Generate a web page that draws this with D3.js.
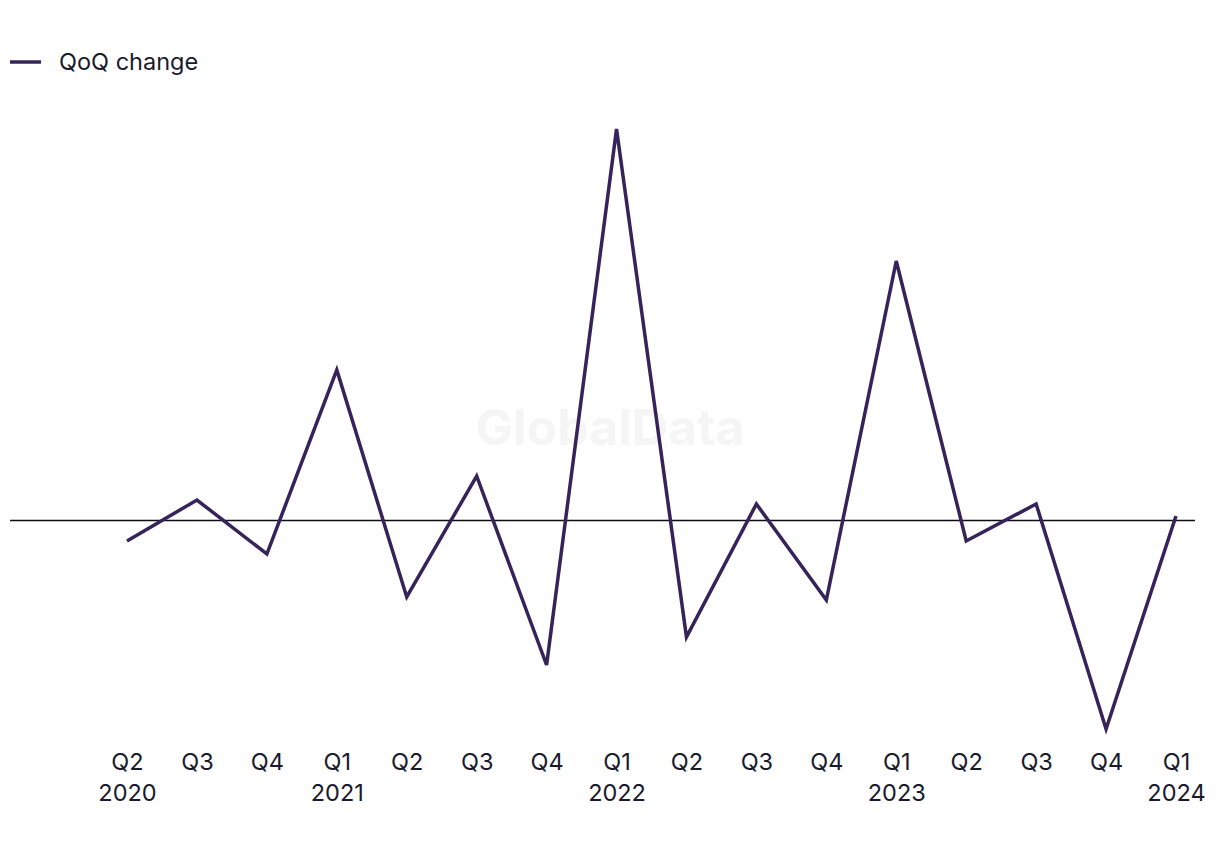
<!DOCTYPE html>
<html>
<head>
<meta charset="utf-8">
<script src="https://cdn.jsdelivr.net/npm/d3@7/dist/d3.min.js"></script>
<style>
  html, body { margin: 0; padding: 0; background: #ffffff; }
  svg { display: block; font-family: Inter, "Noto Sans", sans-serif; }
</style>
</head>
<body>
<svg id="chart" width="1220" height="850"></svg>
<script>
const quarters = ["Q2","Q3","Q4","Q1","Q2","Q3","Q4","Q1","Q2","Q3","Q4","Q1","Q2","Q3","Q4","Q1"];
const years    = ["2020","","","2021","","","","2022","","","","2023","","","","2024"];
const qoqChange = [-2.1, 2.0, -3.4, 15.0, -7.7, 4.4, -14.5, 39.1, -11.7, 1.6, -8.0, 25.9, -2.1, 1.6, -20.9, 0.4];
const seriesName = "QoQ change";

const lineColor = "#35235a";
const textColor = "#1a1a2e";

const svg = d3.select("#chart");
const idx = d3.range(quarters.length);

const x = d3.scalePoint().domain(idx).range([127, 1176]).padding(0);
const y = d3.scaleLinear().domain([-25, 45]).range([770, 70]);

// watermark
svg.append("text")
  .attr("x", 610).attr("y", 445)
  .attr("text-anchor", "middle")
  .attr("font-size", 50).attr("font-weight", 700)
  .attr("fill", "#f5f5f5")
  .text("GlobalData");

// zero line
svg.append("line")
  .attr("x1", 10).attr("x2", 1195)
  .attr("y1", y(0) + 0.5).attr("y2", y(0) + 0.5)
  .attr("stroke", "#0d0d1a").attr("stroke-width", 1.5);

// series line
const line = d3.line().x((d, i) => x(i)).y(d => y(d));
svg.append("path")
  .datum(qoqChange)
  .attr("d", line)
  .attr("fill", "none")
  .attr("stroke", lineColor)
  .attr("stroke-width", 3.5)
  .attr("stroke-linejoin", "miter");

// x axis labels
const fs = 23.5;
const xAxis = d3.axisBottom(x).tickSize(0).tickFormat(i => quarters[i]);
const gx = svg.append("g").attr("transform", "translate(0,743)").call(xAxis);
gx.select(".domain").remove();
gx.selectAll(".tick text")
  .attr("font-size", fs).attr("fill", textColor)
  .attr("font-family", "Inter, 'Noto Sans', sans-serif")
  .attr("dy", "0.71em").attr("y", 10);
gx.selectAll(".tick").each(function(i) {
  if (years[i]) {
    d3.select(this).append("text")
      .attr("y", 41).attr("dy", "0.71em")
      .attr("text-anchor", "middle")
      .attr("font-size", fs).attr("fill", textColor)
      .attr("font-family", "Inter, 'Noto Sans', sans-serif")
      .text(years[i]);
  }
});

// legend
const lg = svg.append("g");
lg.append("line").attr("x1", 10).attr("x2", 41).attr("y1", 62).attr("y2", 62)
  .attr("stroke", lineColor).attr("stroke-width", 3.5);
lg.append("text").attr("x", 59).attr("y", 62).attr("dy", "0.35em")
  .attr("font-size", fs).attr("fill", textColor)
  .text(seriesName);
</script>
</body>
</html>
